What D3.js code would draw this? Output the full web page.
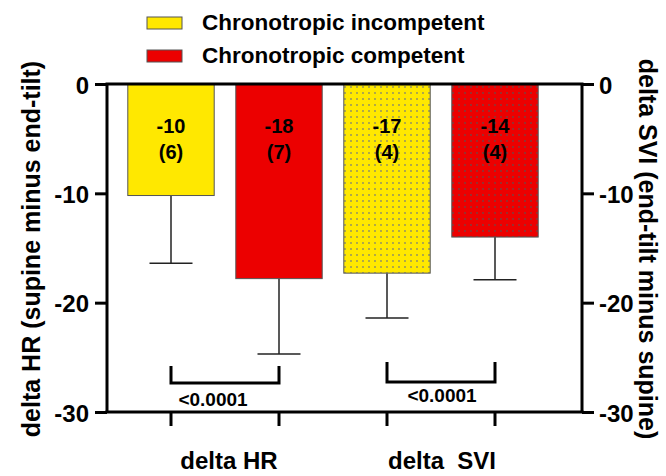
<!DOCTYPE html>
<html>
<head>
<meta charset="utf-8">
<script src="https://cdn.jsdelivr.net/npm/d3@7.9.0/dist/d3.min.js"></script>
<style>
  body { margin: 0; background: #fff; }
  text { font-family: "Liberation Sans", Arial, sans-serif; font-weight: bold; fill: #000; }
</style>
</head>
<body>
<svg id="chart" width="666" height="476"></svg>
<script>
// data
const bars = ["HR-incomp", "HR-comp", "SVI-incomp", "SVI-comp"];
const means = [-10.2, -17.8, -17.3, -14.0];
const errLow = [-16.4, -24.7, -21.4, -17.9];
const meanLabels = ["-10", "-18", "-17", "-14"];
const nLabels = ["(6)", "(7)", "(4)", "(4)"];
const dotted = [false, false, true, true];
const colors = ["#ffe800", "#ec0000", "#ffe800", "#ec0000"];
const groups = ["delta HR", "delta  SVI"];
const pValues = ["<0.0001", "<0.0001"];
const legendLabels = ["Chronotropic incompetent", "Chronotropic competent"];
const yTicks = [0, -10, -20, -30];

const svg = d3.select("#chart");
const plotL = 107, plotR = 582, plotT = 84, plotB = 412;

const y = d3.scaleLinear().domain([0, -30]).range([plotT, plotB]);
const x = d3.scaleBand().domain(bars).range([117, 549])
  .paddingInner(0.2).paddingOuter(0.1);

// dot pattern for SVI bars
const defs = svg.append("defs");
["#ffe800", "#ec0000"].forEach((c, i) => {
  const p = defs.append("pattern")
    .attr("id", "dots" + i)
    .attr("patternUnits", "userSpaceOnUse")
    .attr("width", 6).attr("height", 6);
  p.append("rect").attr("width", 6).attr("height", 6).attr("fill", c);
  p.append("circle").attr("cx", 3).attr("cy", 3).attr("r", 0.9)
    .attr("fill", i === 0 ? "#8a8a6a" : "#7a4040");
});

// bars
bars.forEach((b, i) => {
  const fill = dotted[i] ? `url(#dots${colors[i] === "#ffe800" ? 0 : 1})` : colors[i];
  const cx = x(b) + x.bandwidth() / 2;

  // error bar
  svg.append("line")
    .attr("x1", cx).attr("x2", cx)
    .attr("y1", y(means[i])).attr("y2", y(errLow[i]))
    .attr("stroke", "#222").attr("stroke-width", 1.5);
  svg.append("line")
    .attr("x1", cx - 21.5).attr("x2", cx + 21.5)
    .attr("y1", y(errLow[i])).attr("y2", y(errLow[i]))
    .attr("stroke", "#222").attr("stroke-width", 1.5);

  svg.append("rect")
    .attr("x", x(b)).attr("y", y(0))
    .attr("width", x.bandwidth())
    .attr("height", y(means[i]) - y(0))
    .attr("fill", fill)
    .attr("stroke", "#555").attr("stroke-width", 1);

  svg.append("text")
    .attr("x", cx).attr("y", 133)
    .attr("text-anchor", "middle").attr("font-size", 20)
    .text(meanLabels[i]);
  svg.append("text")
    .attr("x", cx).attr("y", 159)
    .attr("text-anchor", "middle").attr("font-size", 20)
    .text(nLabels[i]);
});

// axes
const fmt = d => String(d);
const yAxisL = d3.axisLeft(y).tickValues(yTicks).tickSize(12).tickPadding(6).tickFormat(fmt);
const yAxisR = d3.axisRight(y).tickValues(yTicks).tickSize(12).tickPadding(5).tickFormat(fmt);
const xAxis = d3.axisBottom(x).tickSize(14).tickFormat("");

function styleAxis(g) {
  g.select(".domain").remove();
  g.selectAll(".tick line").attr("stroke", "#000").attr("stroke-width", 3);
  g.selectAll(".tick text").attr("font-size", 24).attr("dy", "0.38em")
    .style("font-family", '"Liberation Sans", Arial, sans-serif')
    .style("font-weight", "bold");
}

svg.append("g").attr("transform", `translate(${plotL},0)`).call(yAxisL).call(styleAxis);
svg.append("g").attr("transform", `translate(${plotR},0)`).call(yAxisR).call(styleAxis);
svg.append("g").attr("transform", `translate(0,${plotB})`).call(xAxis).call(styleAxis);

// frame lines
svg.append("line").attr("x1", plotL).attr("x2", plotL).attr("y1", plotT).attr("y2", plotB)
  .attr("stroke", "#000").attr("stroke-width", 3);
svg.append("line").attr("x1", plotR).attr("x2", plotR).attr("y1", plotT).attr("y2", plotB)
  .attr("stroke", "#000").attr("stroke-width", 3);
svg.append("line").attr("x1", plotL - 1.5).attr("x2", plotR + 1.5).attr("y1", plotB).attr("y2", plotB)
  .attr("stroke", "#000").attr("stroke-width", 3);
svg.append("line").attr("x1", plotL - 1.5).attr("x2", plotR + 1.5).attr("y1", plotT).attr("y2", plotT)
  .attr("stroke", "#000").attr("stroke-width", 3);

// group labels and p-value brackets
groups.forEach((g, gi) => {
  const a = x(bars[gi * 2]) + x.bandwidth() / 2;
  const b = x(bars[gi * 2 + 1]) + x.bandwidth() / 2;
  const yb = gi === 0 ? 383 : 382;
  const yt = gi === 0 ? 366 : 362;
  svg.append("path")
    .attr("d", `M${a},${yt}V${yb}H${b}V${yt}`)
    .attr("fill", "none").attr("stroke", "#000").attr("stroke-width", 3);
  svg.append("text")
    .attr("x", gi === 0 ? (a + b) / 2 - 12 : (a + b) / 2 + 1)
    .attr("y", gi === 0 ? 406 : 402)
    .attr("text-anchor", "middle").attr("font-size", 19)
    .text(pValues[gi]);
  svg.append("text")
    .attr("x", (a + b) / 2 + (gi === 0 ? 4 : 1))
    .attr("y", 469)
    .attr("text-anchor", "middle").attr("font-size", 24)
    .style("white-space", "pre")
    .text(g);
});

// axis titles
svg.append("text")
  .attr("transform", `translate(40,249) rotate(-90)`)
  .attr("text-anchor", "middle").attr("font-size", 25)
  .text("delta HR (supine minus end-tilt)");
svg.append("text")
  .attr("transform", `translate(639,249) rotate(90)`)
  .attr("text-anchor", "middle").attr("font-size", 25)
  .text("delta SVI (end-tilt minus supine)");

// legend
legendLabels.forEach((l, i) => {
  svg.append("rect")
    .attr("x", 147).attr("y", 17 + i * 33)
    .attr("width", 35).attr("height", 12)
    .attr("fill", colors[i]).attr("stroke", "#555").attr("stroke-width", 1);
  svg.append("text")
    .attr("x", 202).attr("y", 30 + i * 33)
    .attr("font-size", 22.5)
    .text(l);
});
</script>
</body>
</html>
